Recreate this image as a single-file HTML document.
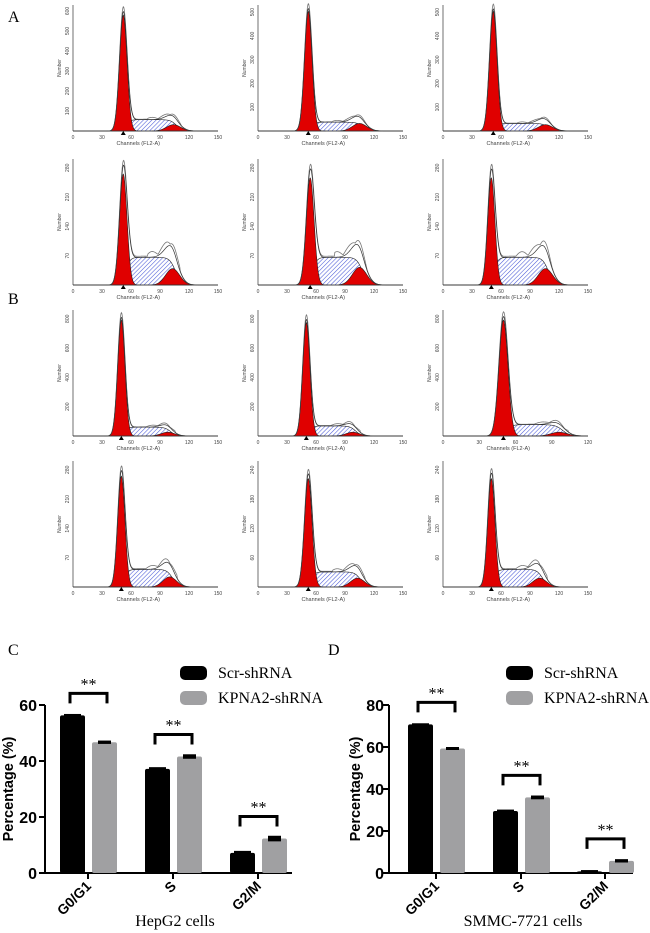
<!DOCTYPE html>
<html><head><meta charset="utf-8">
<style>
html,body{margin:0;padding:0;background:#fff;}
svg{display:block;}
</style></head>
<body>
<svg id="fig" width="650" height="933" viewBox="0 0 650 933" xmlns="http://www.w3.org/2000/svg">
<defs>
<pattern id="hatch" width="3" height="3" patternUnits="userSpaceOnUse" patternTransform="rotate(45)">
<rect width="3" height="3" fill="#fff"/>
<line x1="0" y1="0" x2="0" y2="3" stroke="#4a5ad8" stroke-width="1.1"/>
</pattern>
</defs>
<text x="8" y="22" font-family="Liberation Serif, serif" font-size="16">A</text>
<text x="8" y="304" font-family="Liberation Serif, serif" font-size="16">B</text>
<text x="8" y="655" font-family="Liberation Serif, serif" font-size="16">C</text>
<text x="328" y="655" font-family="Liberation Serif, serif" font-size="16">D</text>
<g id="hists"></g>
<g id="chartC"></g>
<g id="chartD"></g>
</svg>
<script>
// Histogram panel parameters (channel units / fraction of plot height)
const histG1Mean = [52,52,52, 52,54,50, 50,50,50, 50,52,50];
const histG1Height = [0.92,0.95,0.95, 0.88,0.85,0.85, 0.92,0.90,0.92, 0.88,0.86,0.86];
const histSLevel = [0.09,0.07,0.06, 0.22,0.22,0.22, 0.07,0.08,0.09, 0.14,0.12,0.14];
const histG2Mean = [104,105,106, 103,105,106, 98,98,96, 100,103,100];
const histG2Height = [0.05,0.06,0.05, 0.13,0.14,0.13, 0.03,0.03,0.03, 0.08,0.07,0.07];
const histXMax = [150,150,150, 150,150,150, 150,150,120, 150,150,150];
const histYTicks = [["100","200","300","400","500","600"],["100","200","300","400","500"],["100","200","300","400","500"],
 ["70","140","210","280"],["70","140","210","280"],["70","140","210","280"],
 ["200","400","600","800"],["200","400","600","800"],["200","400","600","800"],
 ["70","140","210","280"],["60","120","180","240"],["60","120","180","240"]];

// Bar chart data
const categories = ["G0/G1","S","G2/M"];
const hepScr = [56.3,37.2,7.2];
const hepKp = [46.7,41.6,12.3];
const hepScrErr = [0.5,0.6,0.7];
const hepKpErr = [0.6,0.8,1.0];
const smScr = [70.8,29.5,0.8];
const smKp = [59.3,36.0,5.8];
const smScrErr = [0.5,0.7,0.6];
const smKpErr = [0.7,0.9,0.8];
const hepTicks = [0,20,40,60];
const smTicks = [0,20,40,60,80];

const NS="http://www.w3.org/2000/svg";
function mk(tag,attrs,parent){const e=document.createElementNS(NS,tag);for(const k in attrs)e.setAttribute(k,attrs[k]);parent.appendChild(e);return e;}

const colX=[73,258,443], rowBase=[131,285,436,587], plotW=145, plotH=126;
const hists=document.getElementById('hists');
function gauss(x,m,s){return Math.exp(-0.5*((x-m)/s)*((x-m)/s));}
for(let i=0;i<12;i++){
  const r=Math.floor(i/3), c=i%3;
  const x0=colX[c], yb=rowBase[r], xm=histXMax[i];
  const g=mk('g',{},hists);
  
  
  const sx=ch=>x0+ch/xm*plotW, sy=f=>yb-f*plotH;
  const m1=histG1Mean[i], h1=histG1Height[i], sl=histSLevel[i], m2=histG2Mean[i], h2=histG2Height[i];
  const sd1=m1*0.075, sd2=m2*0.07;
  const sF=ch=>sl*(1/(1+Math.exp(-(ch-m1-2)/2.5)))*(1/(1+Math.exp((ch-m2-3)/3)));
  let sPath='M'+sx(m1-12)+','+yb, g1P='M'+sx(m1-18)+','+yb, g2P='M'+sx(m2-22)+','+yb, env='M'+sx(0)+','+yb, env2='';
  for(let ch=0;ch<=xm;ch+=0.5){
    const a=h1*gauss(ch,m1,sd1), b=h2*gauss(ch,m2,sd2), s=sF(ch);
    if(ch>=m1-12&&ch<=m2+20) sPath+=' L'+sx(ch)+','+sy(s);
    if(ch>=m1-18&&ch<=m1+18) g1P+=' L'+sx(ch)+','+sy(a);
    if(ch>=m2-22&&ch<=m2+22) g2P+=' L'+sx(ch)+','+sy(b);
    const tot=a+b+s;
    env+=' L'+sx(ch)+','+sy(tot);
    const bump=(ch>m1+25&&ch<m2+8)?0.04*Math.abs(Math.sin(ch/4))*(sl*4):0;
    env2+=(env2?' L':'M')+sx(ch)+','+sy(tot*1.04+bump);
  }
  sPath+=' L'+sx(m2+20)+','+yb+' Z'; g1P+=' L'+sx(m1+18)+','+yb+' Z'; g2P+=' L'+sx(m2+22)+','+yb+' Z';
  mk('path',{d:sPath,fill:'url(#hatch)',stroke:'#222','stroke-width':0.6},g);
  mk('path',{d:g2P,fill:'#e00000',stroke:'#222','stroke-width':0.6},g);
  mk('path',{d:g1P,fill:'#e00000',stroke:'#222','stroke-width':0.6},g);
  mk('path',{d:env2,fill:'none',stroke:'#777','stroke-width':0.8},g);
  mk('path',{d:env,fill:'none',stroke:'#333','stroke-width':0.7},g);
  mk('line',{x1:x0,y1:yb,x2:x0+plotW,y2:yb,stroke:'#333','stroke-width':0.7},g);
  mk('line',{x1:x0,y1:yb,x2:x0,y2:yb-plotH,stroke:'#333','stroke-width':0.7},g);
  for(let t=0;t<=xm;t+=30){
    const tx=mk('text',{x:sx(t),y:yb+8,'font-size':5,'text-anchor':'middle','font-family':'Liberation Sans, sans-serif',fill:'#444'},g);
    tx.textContent=t;
  }
  const yt=histYTicks[i];
  yt.forEach((lab,k)=>{
    const yy=yb-(k+1)/(yt.length+0.3)*plotH;
    const tx=mk('text',{x:x0-4,y:yy,'font-size':5,'text-anchor':'middle','font-family':'Liberation Sans, sans-serif',fill:'#444',transform:'rotate(-90 '+(x0-4)+' '+yy+')'},g);
    tx.textContent=lab;
  });
  const yl=mk('text',{x:x0-12,y:yb-plotH*0.5,'font-size':5,'text-anchor':'middle','font-family':'Liberation Sans, sans-serif',fill:'#444',transform:'rotate(-90 '+(x0-12)+' '+(yb-plotH*0.5)+')'},g);
  yl.textContent='Number';
  const xl=mk('text',{x:x0+plotW*0.45,y:yb+14,'font-size':5.5,'text-anchor':'middle','font-family':'Liberation Sans, sans-serif',fill:'#444'},g);
  xl.textContent='Channels (FL2-A)';
  mk('path',{d:'M'+(sx(m1)-2.5)+','+(yb+4)+' L'+sx(m1)+','+(yb)+' L'+(sx(m1)+2.5)+','+(yb+4)+' Z',fill:'#000'},g);
}

function barChart(id,scr,kp,scrE,kpE,ticks,ymax,axisX,axisEnd,centers,cellLabel,legX,ytx,tickOff){
  const g=document.getElementById(id);
  const y0=873, yTop=705;
  const sy=v=>y0-v/ymax*(y0-yTop);
  const F='Liberation Sans, Arial, sans-serif';
  mk('line',{x1:axisX,y1:y0,x2:axisEnd,y2:y0,stroke:'#000','stroke-width':2},g);
  mk('line',{x1:axisX,y1:y0+1,x2:axisX,y2:yTop,stroke:'#000','stroke-width':2},g);
  ticks.forEach(t=>{
    mk('line',{x1:axisX-6,y1:sy(t),x2:axisX,y2:sy(t),stroke:'#000','stroke-width':2},g);
    const tx=mk('text',{x:axisX-tickOff,y:sy(t)+6,'font-size':16,'font-weight':'bold','text-anchor':'end','font-family':F},g);
    
    
    tx.textContent=t;
  });
  const yt=mk('text',{x:ytx,y:789,'font-size':14.5,'font-weight':'bold','text-anchor':'middle','font-family':F,transform:'rotate(-90 '+ytx+' 789)'},g);
  
  
  yt.textContent='Percentage (%)';
  const bw=25;
  categories.forEach((cat,i)=>{
    const c=centers[i];
    const bx1=c-bw-3, bx2=c+4;
    const b1=mk('rect',{x:bx1,y:sy(scr[i]),width:bw,height:y0-sy(scr[i]),fill:'#000',rx:2},g);
    
    
    const b2=mk('rect',{x:bx2,y:sy(kp[i]),width:bw,height:y0-sy(kp[i]),fill:'#a0a0a2',rx:2},g);
    
    
    mk('rect',{x:bx1+4,y:sy(scr[i]+scrE[i]),width:bw-8,height:Math.max(2,sy(scr[i]-scrE[i])-sy(scr[i]+scrE[i])),fill:'#000'},g);
    mk('rect',{x:bx2+6,y:sy(kp[i]+kpE[i]),width:bw-12,height:Math.max(3,sy(kp[i]-kpE[i])-sy(kp[i]+kpE[i])),fill:'#000'},g);
    mk('line',{x1:c,y1:y0,x2:c,y2:y0+6,stroke:'#000','stroke-width':2},g);
    const top=sy(Math.max(scr[i],kp[i]))-22;
    const br=mk('path',{d:'M'+(bx1+10)+','+(top+10)+' V'+top+' H'+(bx2+15)+' V'+(top+10),fill:'none',stroke:'#000','stroke-width':3},g);
    
    
    const st=mk('text',{x:(bx1+bx2+25)/2,y:top-4,'font-size':16,'text-anchor':'middle','font-family':'Liberation Serif, serif'},g);
    
    
    st.textContent='**';
    const lx=c+4, ly=y0+14;
    const cl=mk('text',{x:lx,y:ly,'font-size':14,'font-weight':'bold','text-anchor':'end','font-family':F,transform:'rotate(-45 '+lx+' '+ly+')'},g);
    
    
    cl.textContent=cat;
  });
  const xt=mk('text',{x:centers[1]+2,y:926,'font-size':16,'text-anchor':'middle','font-family':'Liberation Serif, serif'},g);
  
  
  xt.textContent=cellLabel;
  const l1=mk('rect',{x:legX,y:666,width:27,height:14,rx:5,fill:'#000'},g);
  
  
  const t1=mk('text',{x:legX+38,y:678,'font-size':16,'font-family':'Liberation Serif, serif'},g);
  
  
  t1.textContent='Scr-shRNA';
  const l2=mk('rect',{x:legX,y:691,width:27,height:14,rx:5,fill:'#a0a0a2'},g);
  
  
  const t2=mk('text',{x:legX+38,y:703,'font-size':16,'font-family':'Liberation Serif, serif'},g);
  
  
  t2.textContent='KPNA2-shRNA';
}
barChart('chartC',hepScr,hepKp,hepScrErr,hepKpErr,hepTicks,60,45,292,[88,173,258],'HepG2 cells',180,13,8);
barChart('chartD',smScr,smKp,smScrErr,smKpErr,smTicks,80,389,633,[436,521,605],'SMMC-7721 cells',506,360,5);
</script>
</body></html>
